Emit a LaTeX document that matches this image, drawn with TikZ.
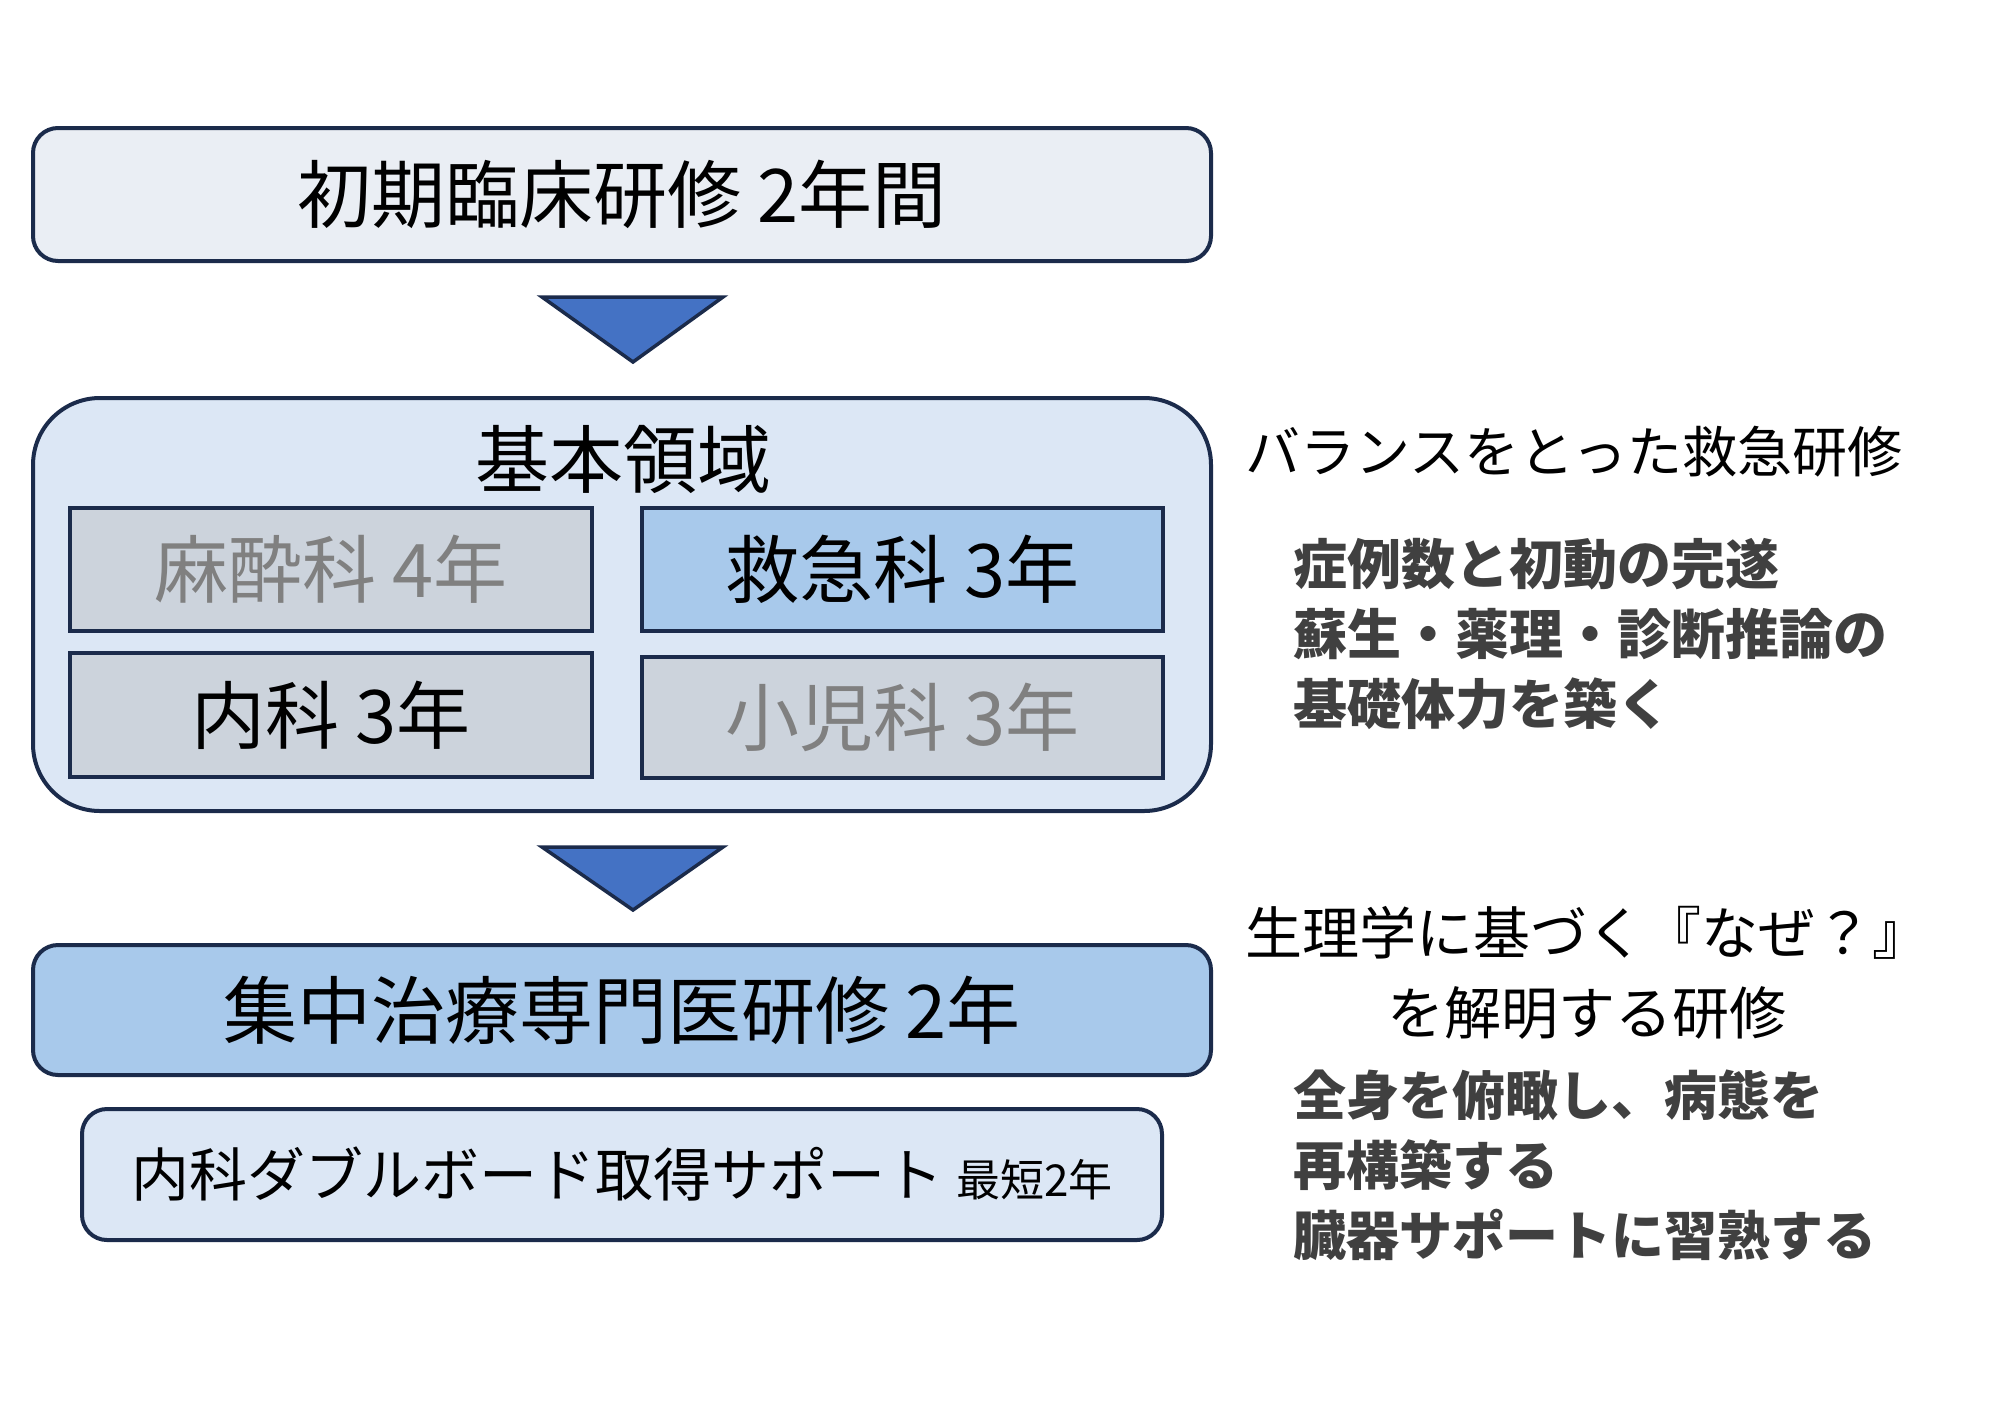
\documentclass[tikz,border=0pt]{standalone}
\usepackage{fontspec}
\setmainfont{Noto Sans CJK JP}
\definecolor{edge}{HTML}{1B2B4B}
\definecolor{topfill}{HTML}{EAEEF4}
\definecolor{bigfill}{HTML}{DCE7F5}
\definecolor{greyfill}{HTML}{CCD3DC}
\definecolor{bluefill}{HTML}{A8C9EB}
\definecolor{trifill}{HTML}{4472C4}
\definecolor{dimtext}{HTML}{808080}
\definecolor{boldtext}{HTML}{404040}
\newcommand{\upbit}[1]{\raisebox{4pt}{#1}}
\begin{document}
\begin{tikzpicture}[x=1pt,y=-1pt,
  box/.style={draw=edge, line width=4pt, inner sep=0pt},
  roundbox/.style={box, rounded corners=25pt},
  subbox/.style={draw=edge, line width=3.5pt, inner sep=0pt, fill=greyfill},
  tri/.style={draw=edge, line width=3.5pt, fill=trifill, line join=miter},
  big/.style={font=\fontsize{74}{80}\selectfont},
  side/.style={inner sep=0pt, font=\fontsize{55}{80}\selectfont},
  sidebold/.style={inner sep=0pt, text=boldtext, align=left, font=\fontsize{54}{70}\selectfont\bfseries}
]
\useasboundingbox (0,0) rectangle (2008,1417);
\fill[white] (0,0) rectangle (2008,1417);

% top box
\node[roundbox, fill=topfill, minimum width=1178pt, minimum height=133pt, big] (init) at (622,194.5) {\upbit{初期臨床研修 2年間}};

% arrow 1
\coordinate (t1a) at (542,297);
\coordinate (t1b) at (723,297);
\coordinate (t1c) at (633,362);
\draw[tri] (t1a) -- (t1b) -- (t1c) -- cycle;

% basic area
\node[box, fill=bigfill, rounded corners=67pt, minimum width=1178pt, minimum height=413pt] (basic) at (622,604.5) {};
\node[inner sep=0pt, big] (basictitle) at (623,459) {基本領域};

\node[subbox, minimum width=522pt, minimum height=123pt, big, text=dimtext] (masui) at (331,569.5) {\upbit{麻酔科 4年}};
\node[subbox, fill=bluefill, minimum width=521pt, minimum height=123pt, big] (kyukyu) at (902.5,569.5) {\upbit{救急科 3年}};
\node[subbox, minimum width=522pt, minimum height=124pt, big] (naika) at (331,715) {\upbit{内科 3年}};
\node[subbox, minimum width=521pt, minimum height=121pt, big, text=dimtext] (shoni) at (902.5,717.5) {\upbit{小児科 3年}};

% arrow 2
\coordinate (t2a) at (542,847);
\coordinate (t2b) at (723,847);
\coordinate (t2c) at (633,910);
\draw[tri] (t2a) -- (t2b) -- (t2c) -- cycle;

% ICU box
\node[roundbox, fill=bluefill, minimum width=1178pt, minimum height=130pt, big] (icu) at (622,1010) {\upbit{集中治療専門医研修 2年}};

% double board box
\node[roundbox, fill=bigfill, minimum width=1080pt, minimum height=131pt, font=\fontsize{58}{70}\selectfont] (double) at (622,1174.5) {内科ダブルボード取得サポート {\fontsize{44}{50}\selectfont 最短2年}};

% right side texts
\node[side, anchor=west] (bal) at (1245,452) {バランスをとった救急研修};
\node[sidebold, anchor=west] (balpts) at (1293,634) {症例数と初動の完遂\\蘇生・薬理・診断推論の\\基礎体力を築く};

\node[side, align=center, font=\fontsize{57}{80}\selectfont] (why) at (1587,973) {生理学に基づく『なぜ？』\\を解明する研修};
\node[sidebold, anchor=west, font=\fontsize{53}{70}\selectfont\bfseries] (whypts) at (1293,1165) {全身を俯瞰し、病態を\\再構築する\\臓器サポートに習熟する};
\end{tikzpicture}
\end{document}
